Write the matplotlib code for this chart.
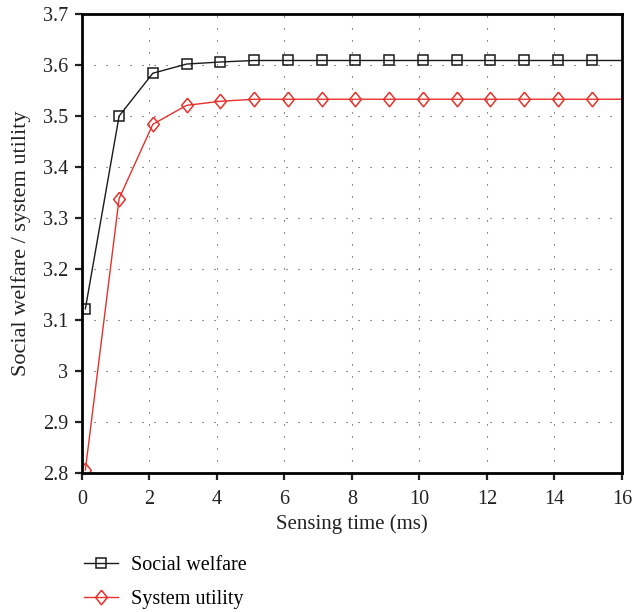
import matplotlib.pyplot as plt
from matplotlib.ticker import FuncFormatter
from numpy import array

plt.rcParams['font.family'] = 'Liberation Serif'

# sensing time (ms); last point at 16 carries no marker
t = array([0.1, 1.1, 2.1, 3.1, 4.1, 5.1, 6.1, 7.1, 8.1, 9.1,
           10.1, 11.1, 12.1, 13.1, 14.1, 15.1, 16.0])
welfare = array([3.122, 3.500, 3.584, 3.602, 3.606, 3.609, 3.609, 3.609, 3.609,
                 3.609, 3.609, 3.609, 3.609, 3.609, 3.609, 3.609, 3.609])
utility = array([2.806, 3.338, 3.484, 3.521, 3.529, 3.533, 3.533, 3.533, 3.533,
                 3.533, 3.533, 3.533, 3.533, 3.533, 3.533, 3.533, 3.533])

fig = plt.figure(figsize=(6.33, 6.12), dpi=100)
ax = fig.add_axes([0.1295, 0.2271, 0.8531, 0.7499])

marks = list(range(16))
diamond = [(0, 1), (0.8, 0), (0, -1), (-0.8, 0), (0, 1)]
ax.plot(t, welfare, color='#1a1a1a', lw=1.0, marker='s', ms=6.8, mfc='none',
        mec='#1a1a1a', mew=1.1, markevery=marks, label='Social welfare')
ax.plot(t, utility, color='#e8312a', lw=1.0, marker=diamond, ms=10.5, mfc='none',
        mec='#e8312a', mew=1.1, markevery=marks, label='System utility')

ax.set_xlim(0, 16)
ax.set_ylim(2.8, 3.7)
ax.set_xticks(range(0, 17, 2))
ax.set_yticks([2.8, 2.9, 3.0, 3.1, 3.2, 3.3, 3.4, 3.5, 3.6, 3.7])
ax.yaxis.set_major_formatter(FuncFormatter(lambda v, p: '%g' % round(v, 2)))
ax.grid(True, color='#444444', linestyle=(0, (1, 9.8)), lw=0.8)

for s in ax.spines.values():
    s.set_linewidth(2.0)
ax.tick_params(direction='out', length=5, width=1.6, labelsize=14.5, colors='#222222')
ax.tick_params(axis='x', pad=7)
ax.tick_params(axis='y', pad=5)

ax.set_xlabel('Sensing time (ms)', fontsize=15, color='#222222', labelpad=4)
ax.set_ylabel('Social welfare / system utility', fontsize=16, color='#222222')
ax.yaxis.set_label_coords(-0.095, 0.5)

fig.legend(handles=ax.get_lines(), loc='upper left',
           bbox_to_anchor=(84 / 633, 1 - 556 / 612), frameon=False,
           fontsize=14.5, handlelength=1.7, labelspacing=0.72, handletextpad=0.65,
           borderpad=0, borderaxespad=0)

fig.savefig('out.png', dpi=100)
